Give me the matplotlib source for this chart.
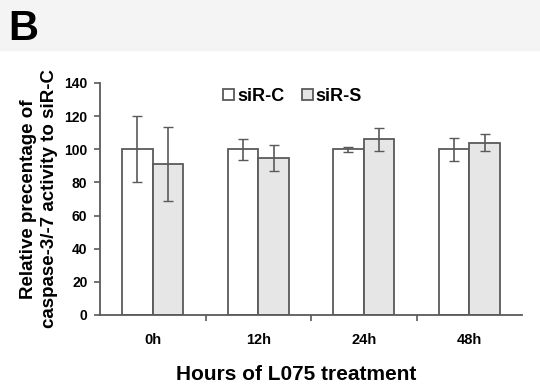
import numpy as np
import matplotlib
matplotlib.use("Agg")
import matplotlib.pyplot as plt
from matplotlib.patches import Rectangle

plt.rcParams['font.family'] = ['Liberation Sans', 'DejaVu Sans']
plt.rcParams['font.weight'] = 'bold'

hours = ['0h', '12h', '24h', '48h']
sirc = [100, 100, 100, 100]
sirc_err = [20, 6.5, 1.5, 7]
sirs = [91, 94.7, 106, 104]
sirs_err = [22.5, 8, 7, 5]

axis_col = '#5a5a5a'

fig = plt.figure(figsize=(5.4, 3.84), dpi=100)
fig.patches.append(Rectangle((0, 1 - 50/384), 1, 50/384, transform=fig.transFigure,
                             color='#f4f4f4', zorder=-1))
fig.text(8/540, 1 - 40/384, 'B', fontsize=30, fontweight='bold', color='black')

ax = fig.add_axes([100/540, 1 - 315/384, 422/540, 232/384])
x = np.arange(len(hours)) + 0.5
w = 0.29
ax.bar(x - 0.145, sirc, w, color='white', edgecolor=axis_col, linewidth=1.3, label='siR-C')
ax.bar(x + 0.145, sirs, w, color='#e6e6e6', edgecolor=axis_col, linewidth=1.3, label='siR-S')
ax.errorbar(x - 0.145, sirc, yerr=sirc_err, fmt='none', ecolor=axis_col, elinewidth=1.2, capsize=3.5)
ax.errorbar(x + 0.145, sirs, yerr=sirs_err, fmt='none', ecolor=axis_col, elinewidth=1.2, capsize=3.5)

ax.set_xlim(0, len(hours))
ax.set_ylim(0, 140)
ax.set_yticks(range(0, 141, 20))
ax.set_xticks(x)
ax.set_xticklabels(hours)
ax.set_xticks(np.arange(1, len(hours)), minor=True)
ax.tick_params(axis='x', which='major', length=0, pad=13, labelsize=10.5)
ax.tick_params(axis='x', which='minor', length=4, color=axis_col, width=1.2)
ax.tick_params(axis='y', length=4, color=axis_col, width=1.2, labelsize=10, pad=5)
for s in ['top', 'right']:
    ax.spines[s].set_visible(False)
for s in ['left', 'bottom']:
    ax.spines[s].set_color(axis_col)
    ax.spines[s].set_linewidth(1.3)

ax.set_ylabel('Relative precentage of\ncaspase-3/-7 activity to siR-C', fontsize=13.5,
              fontweight='bold', linespacing=1.3)
ax.yaxis.set_label_coords(-42/422, 0.5)
ax.set_xlabel('Hours of L075 treatment', fontsize=15, fontweight='bold')
ax.xaxis.set_label_coords(0.465, -50/232)

ax.legend(loc='upper center', bbox_to_anchor=(0.457, 1.05), ncol=2, frameon=False,
          fontsize=13, handlelength=0.6, handleheight=0.6, handletextpad=0.15,
          columnspacing=1.0)

fig.savefig('out.png', dpi=100)
